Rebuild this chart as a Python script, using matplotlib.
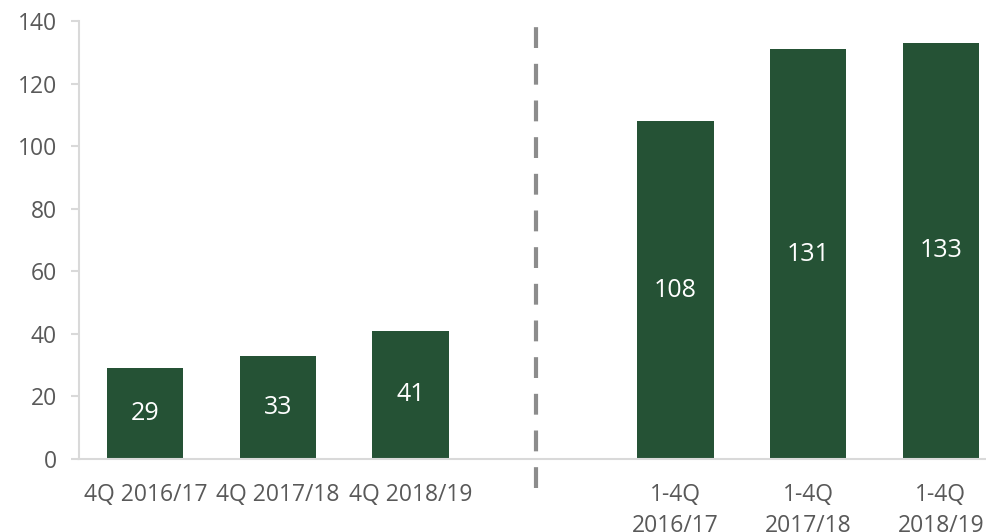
import matplotlib.pyplot as plt

# quarterly values on the left, full-year values on the right
categories = ["4Q 2016/17", "4Q 2017/18", "4Q 2018/19", "",
              "1-4Q\n2016/17", "1-4Q\n2017/18", "1-4Q\n2018/19"]
values = [29, 33, 41, None, 108, 131, 133]

BAR_COLOR = "#255235"
AXIS_COLOR = "#d9d9d9"
TEXT_COLOR = "#595959"

plt.rcParams["font.family"] = ["Open Sans", "DejaVu Sans"]

fig = plt.figure(figsize=(9.86, 5.32), dpi=100)
ax = fig.add_axes([79 / 986, 73 / 532, 928 / 986, 438 / 532])

xs = [i for i, v in enumerate(values) if v is not None]
ys = [v for v in values if v is not None]
bars = ax.bar(xs, ys, width=0.575, color=BAR_COLOR, zorder=2)

# value labels centred inside each bar
for x, y in zip(xs, ys):
    ax.text(x, y / 2, str(y), ha="center", va="center",
            color="white", fontsize=18)

# dashed separator between the quarter and the full-year groups
ax.plot([2.95, 2.95], [-9.3, 139.7], color="#8c8c8c", lw=3,
        dashes=(5, 3.8), clip_on=False, zorder=3)

ax.set_xlim(-0.5, 6.5)
ax.set_ylim(0, 140)
ax.set_yticks(range(0, 141, 20))
ax.set_xticks(range(len(categories)))
ax.set_xticklabels(categories, linespacing=1.4)

for side in ["top", "right"]:
    ax.spines[side].set_visible(False)
ax.spines["left"].set_color(AXIS_COLOR)
ax.spines["bottom"].set_color(AXIS_COLOR)
ax.spines["left"].set_linewidth(1.5)
ax.spines["bottom"].set_linewidth(1.5)

ax.tick_params(axis="y", colors=AXIS_COLOR, labelcolor=TEXT_COLOR,
               length=6, width=1.5, pad=10, labelsize=16.5)
ax.tick_params(axis="x", length=0, pad=17, labelcolor=TEXT_COLOR,
               labelsize=16.5)

plt.savefig("out.png", dpi=100)
